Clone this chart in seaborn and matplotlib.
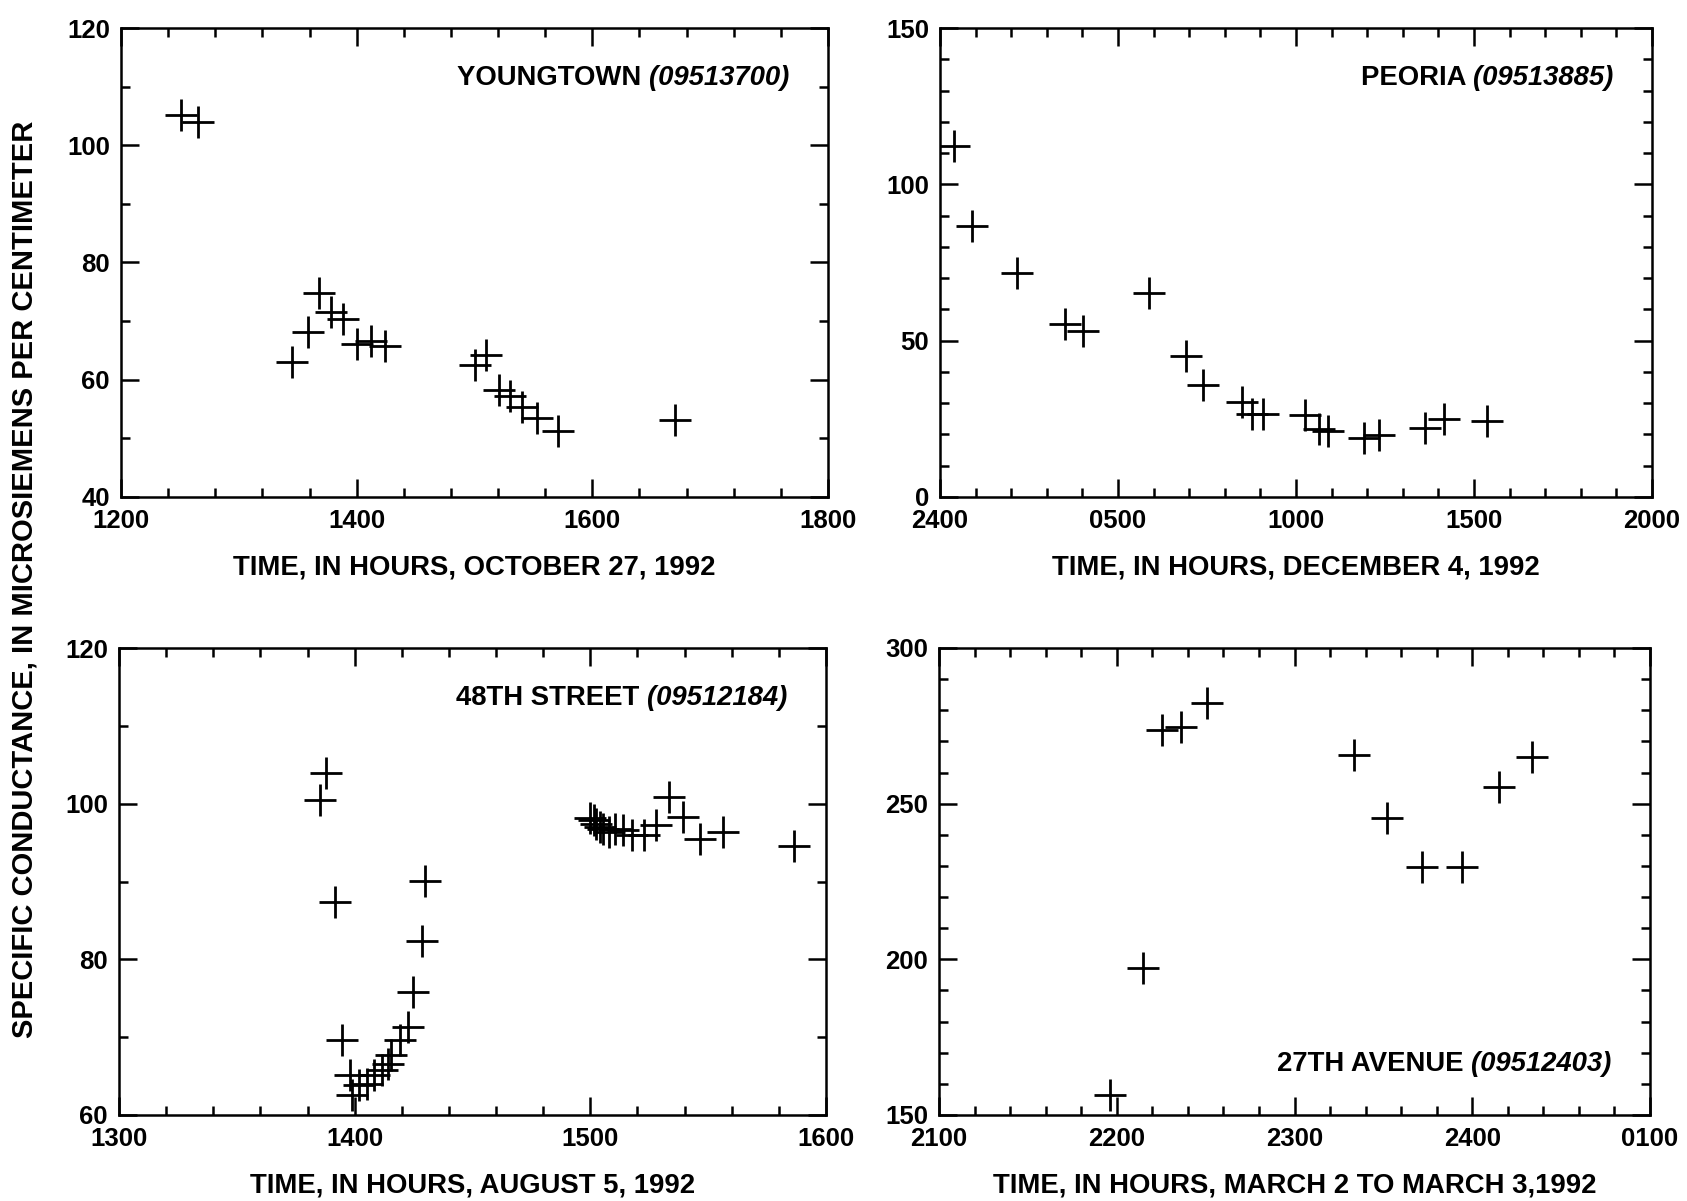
import matplotlib
matplotlib.use("Agg")
import matplotlib.pyplot as plt
import seaborn as sns
import pandas as pd
from matplotlib.ticker import MultipleLocator, FixedLocator, FixedFormatter

# ---------------- data ----------------
# Youngtown (09513700), October 27, 1992
yt_time = [1251, 1265, 1345, 1359, 1368, 1378, 1388, 1400, 1412, 1424,
           1500, 1510, 1521, 1530, 1540, 1553, 1571, 1670]
yt_sc = [105.2, 104.0, 63.1, 68.2, 74.8, 71.6, 70.3, 66.1, 66.6, 65.7,
         62.5, 64.2, 58.2, 57.3, 55.4, 53.4, 51.3, 53.1]

# Peoria (09513885), December 4, 1992 (hours after 2400)
pe_time = [0.39, 0.91, 2.17, 3.52, 4.03, 5.87, 6.91, 7.39, 8.48, 8.77,
           9.06, 10.26, 10.65, 10.91, 11.91, 12.32, 13.62, 14.17, 15.36]
pe_sc = [112.4, 86.7, 71.8, 55.2, 53.0, 65.4, 45.0, 35.8, 30.4, 26.7,
         26.7, 26.1, 21.9, 21.0, 19.0, 19.7, 22.2, 25.1, 24.3]
pe_ticks = [0, 5, 10, 15, 20]
pe_labels = ["2400", "0500", "1000", "1500", "2000"]

# 48th Street (09512184), August 5, 1992
st_time = [1385.3, 1387.9, 1391.8, 1394.5, 1398.0, 1399.0, 1402.0, 1405.4,
           1408.3, 1411.6, 1414.0, 1415.5, 1419.2, 1422.7, 1424.7, 1428.4,
           1430.0, 1500.0, 1501.4, 1502.4, 1504.0, 1505.5, 1508.0, 1510.6,
           1513.7, 1517.8, 1522.9, 1528.0, 1533.2, 1539.4, 1546.6, 1556.4,
           1586.6]
st_sc = [100.5, 104.0, 87.4, 69.6, 65.2, 62.6, 63.8, 64.0, 65.2, 65.8,
         66.6, 67.7, 69.6, 71.3, 75.8, 82.4, 90.1, 98.1, 97.9, 97.4, 97.0,
         96.8, 96.4, 96.8, 96.6, 96.0, 96.0, 97.2, 100.8, 98.3, 95.5, 96.4,
         94.6]

# 27th Avenue (09512403), March 2 to March 3, 1992
av_time = [2196.3, 2214.9, 2225.7, 2236.3, 2250.6, 2333.7, 2352.0, 2372.0,
           2394.3, 2414.9, 2433.7]
av_sc = [156.5, 197.3, 273.7, 274.5, 282.2, 265.5, 245.5, 229.7, 229.7,
         255.2, 265.0]
av_ticks = [2100, 2200, 2300, 2400, 2500]
av_labels = ["2100", "2200", "2300", "2400", "0100"]

# ---------------- style ----------------
sns.set_theme(style="ticks")
plt.rcParams["font.family"] = ["Liberation Sans", "DejaVu Sans"]
plt.rcParams.update({
    "axes.linewidth": 1.8,
    "axes.edgecolor": "black",
    "xtick.color": "black",
    "ytick.color": "black",
    "text.color": "black",
    "axes.labelcolor": "black",
    "font.weight": "bold",
})
FS = 18.5     # tick labels
LFS = 19.8    # x-axis labels
AFS = 19.8    # station annotations
YFS = 21.0    # shared y label

fig = plt.figure(figsize=(16.87, 12.01), dpi=100)
W, H = 1687, 1201


def make_ax(left, right, top, bottom):
    return fig.add_axes([left / W, 1 - bottom / H, (right - left) / W, (bottom - top) / H])


ax1 = make_ax(121, 828, 28, 497)
ax2 = make_ax(940, 1652, 28, 497)
ax3 = make_ax(119, 826, 648, 1115)
ax4 = make_ax(939, 1650, 648, 1115)


def panel(ax, x, y, xlim, ylim, xmaj, xmin, ymaj, ymin, xlabel, name, code, top=True):
    df = pd.DataFrame({"t": x, "v": y})
    sns.scatterplot(data=df, x="t", y="v", ax=ax, marker="+", color="black",
                    s=560, linewidth=2.0, legend=False)
    ax.set_xlim(*xlim)
    ax.set_ylim(*ylim)
    if isinstance(xmaj, tuple):
        ax.xaxis.set_major_locator(FixedLocator(xmaj[0]))
        ax.xaxis.set_major_formatter(FixedFormatter(xmaj[1]))
    else:
        ax.xaxis.set_major_locator(MultipleLocator(xmaj))
    ax.xaxis.set_minor_locator(MultipleLocator(xmin))
    ax.yaxis.set_major_locator(MultipleLocator(ymaj))
    ax.yaxis.set_minor_locator(MultipleLocator(ymin))
    ax.tick_params(which="both", direction="in", top=True, right=True,
                   width=1.8, labelsize=FS)
    ax.tick_params(which="major", length=13)
    ax.tick_params(which="minor", length=6.5)
    ax.tick_params(axis="x", which="major", pad=9)
    ax.tick_params(axis="y", which="major", pad=8)
    ax.set_xlabel(xlabel, fontsize=LFS, labelpad=15, fontweight="bold")
    ax.set_ylabel("")
    for sp in ax.spines.values():
        sp.set_visible(True)
        sp.set_linewidth(1.8)
    if top:
        t = ax.annotate(code, xy=(1, 1), xycoords="axes fraction",
                        xytext=(-28, -36), textcoords="offset points",
                        ha="right", va="center", fontsize=AFS, style="italic",
                        fontweight="bold")
    else:
        t = ax.annotate(code, xy=(1, 0), xycoords="axes fraction",
                        xytext=(-28, 37), textcoords="offset points",
                        ha="right", va="center", fontsize=AFS, style="italic",
                        fontweight="bold")
    ax.annotate(name + " ", xy=(0, 0.5), xycoords=t, ha="right", va="center",
                fontsize=AFS, fontweight="bold")


panel(ax1, yt_time, yt_sc, (1200, 1800), (40, 120), 200, 40, 20, 10,
      "TIME, IN HOURS, OCTOBER 27, 1992", "YOUNGTOWN", "(09513700)")
panel(ax2, pe_time, pe_sc, (0, 20), (0, 150), (pe_ticks, pe_labels), 1, 50, 10,
      "TIME, IN HOURS, DECEMBER 4, 1992", "PEORIA", "(09513885)")
panel(ax3, st_time, st_sc, (1300, 1600), (60, 120), 100, 20, 20, 10,
      "TIME, IN HOURS, AUGUST 5, 1992", "48TH STREET", "(09512184)")
panel(ax4, av_time, av_sc, (2100, 2500), (150, 300), (av_ticks, av_labels), 20, 50, 10,
      "TIME, IN HOURS, MARCH 2 TO MARCH 3,1992", "27TH AVENUE", "(09512403)", top=False)

fig.text(25 / W, 0.518, "SPECIFIC CONDUCTANCE, IN MICROSIEMENS PER CENTIMETER",
         rotation=90, ha="center", va="center", fontsize=YFS, fontweight="bold")

fig.savefig("out.png", dpi=100, facecolor="white")
